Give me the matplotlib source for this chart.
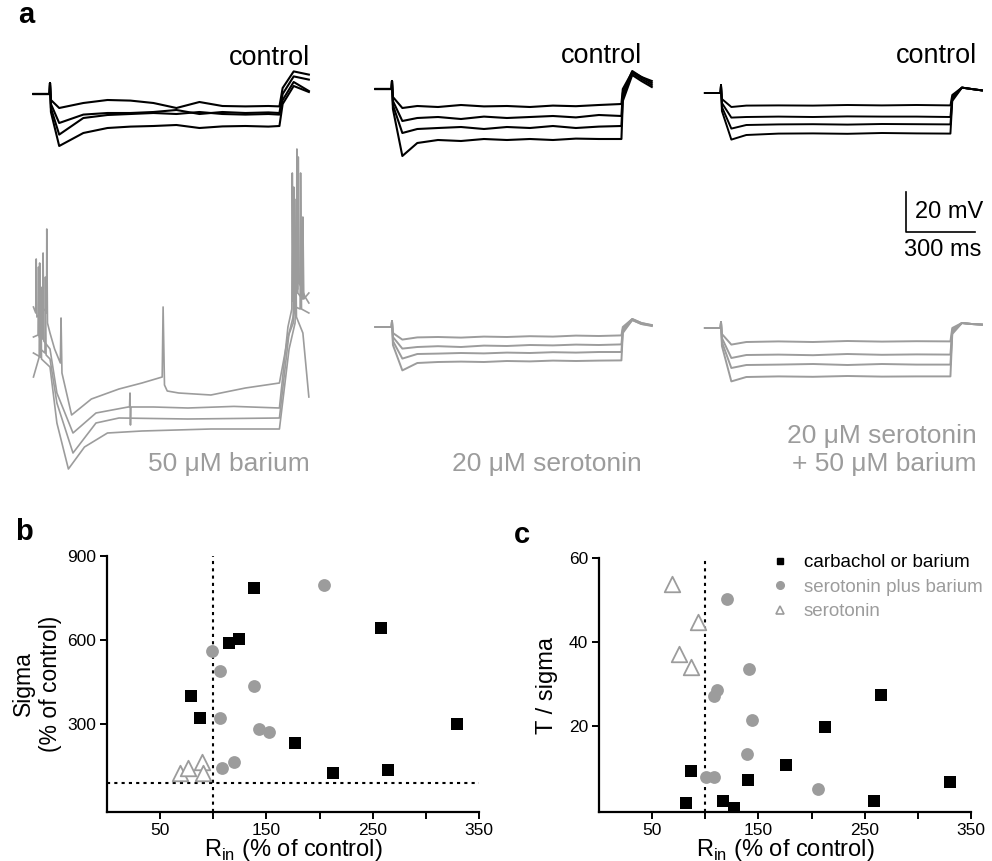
import matplotlib
matplotlib.use("Agg")
import matplotlib.pyplot as plt
from matplotlib.lines import Line2D

plt.rcParams['font.family'] = ['Liberation Sans', 'DejaVu Sans']
plt.rcParams['mathtext.fontset'] = 'custom'
plt.rcParams['mathtext.rm'] = 'Liberation Sans'

GREY = '#9c9c9c'

# ---- panel a: traces, time in ms from step onset, voltage in mV from pre-step level
LEFT_T = [-72, -2, 0, 4, 40, 145, 250, 350, 450, 550, 650, 750, 850, 950, 998, 1012, 1060, 1126]
LEFT_CTRL = [
    [0, 0, 5.5, -3, -7, -4.5, -3, -3.3, -4.5, -7, -4, -6, -6.2, -6, -6.2, 3, 11.3, 9.7],
    [0, 0, 5.5, -5, -14.5, -10.3, -9.5, -9.5, -9, -8, -10, -9, -9.5, -9.2, -9.5, 0, 8.8, 7.2],
    [0, 0, 5.5, -7, -20.3, -12, -10.5, -10, -9.5, -10, -9, -10, -10.3, -10, -10.3, -3, 6, 1.5],
    [0, 0, 5.5, -9, -26, -19.5, -17, -16.3, -16, -15.5, -17, -16.2, -16, -16.3, -16, -5, 4, 1],
]
# barium traces (spiking), each its own time base
BA_A_T = [-72, -62, -60, -57, -20, -15, -14, -11, 0, 20, 45, 48, 52, 94, 180, 300, 400, 488,
          492, 498, 510, 560, 700, 850, 998, 1035, 1058, 1060, 1064, 1078, 1080, 1084, 1110, 1126]
BA_A_V = [13, 10, 37, 8, 12, 10, 52, 5, 0, -8, -15, 7.5, -20, -41, -33, -28, -25, -22,
          13, -26, -29, -30, -31, -27.5, -25, -2, 5, 73, 20, 22, 88, 25, 18, 15]
BA_B_T = [-72, -52, -50, -47, -32, -30, -27, 0, 30, 100, 200, 340, 346, 348, 350, 352, 450, 600,
          800, 998, 1035, 1052, 1054, 1058, 1072, 1074, 1078, 1098, 1100, 1104, 1126]
BA_B_V = [-2, -1, 33, -2, -3, 40, -4, -8, -30, -50, -40, -37, -37, -30, -46, -37, -37, -37.5,
          -36.7, -37.5, 3, 12, 80, 16, 20, 92, 20, 17, 58, 17, 20]
BA_C_T = [-72, -47, -45, -42, -22, -20, -17, 0, 30, 100, 200, 300, 600, 998, 1040, 1062, 1064,
          1068, 1088, 1090, 1094, 1126]
BA_C_V = [-22, -12, 35, -8, -10, 28, -11, -13, -35, -60, -45, -42.5, -43, -42.5, 0, 10, 67,
          13, 12, 80, 12, 10]
BA_D_T = [-72, -42, -40, -37, 0, 30, 80, 150, 250, 400, 700, 998, 1040, 1066, 1068, 1072, 1100, 1126]
BA_D_V = [-10, -12, 23, -13, -17, -45, -68, -57, -50, -49, -48, -48, -8, 5, 50, 8, 0, -32]

MID_T = [-72, -2, 0, 4, 45, 110, 200, 300, 400, 500, 600, 700, 800, 900, 998, 1004, 1045, 1085, 1130]
MID_CTRL = [
    [0, 0, 4, -4, -9.5, -8.5, -9, -8, -8.7, -8.5, -9, -8.3, -8.6, -8, -7.5, 0, 8.5, 6, 4],
    [0, 0, 4, -6, -16, -14.5, -14, -15, -13.8, -14.5, -14, -13.5, -14.2, -13, -13.5, -2, 9, 6, 3],
    [0, 0, 4, -8, -22, -20, -19.5, -19, -20, -19, -19.5, -18.5, -19.5, -18.8, -18.5, -4, 8, 5, 2],
    [0, 0, 4, -10, -33.5, -27, -25.5, -26, -25, -25.5, -25, -25.5, -24.8, -25, -25, -6, 7, 4, 1],
]
MID_SERO = [
    [0, 0, 3, -3, -6.3, -5.2, -5, -5.3, -4.8, -5, -4.6, -4.8, -4.3, -4.5, -4.2, 0, 4, 2, 1],
    [0, 0, 3, -5, -10.8, -10, -9.6, -10, -9.3, -9.5, -9, -9.2, -8.8, -9, -8.7, -1, 4, 2, 0.8],
    [0, 0, 3, -7, -15.8, -13.5, -13.3, -13, -13.2, -12.8, -13, -12.6, -12.8, -12.5, -12.5, -2, 3.5, 1.5, 0.8],
    [0, 0, 3, -9, -21.7, -18, -17.5, -17.3, -17.5, -17, -17.2, -16.8, -17, -16.8, -16.7, -3, 3.5, 1.5, 0.5],
]

RIGHT_T = [-70, -2, 0, 4, 45, 110, 250, 400, 550, 700, 850, 998, 1006, 1048, 1090, 1135]
RIGHT_CTRL = [
    [0, 0, 4, -3, -7, -6.3, -6.2, -6.3, -6, -6.2, -6, -6.2, -1, 2.7, 2, 1.3],
    [0, 0, 4, -5, -12.3, -12, -11.8, -12, -11.7, -11.8, -11.8, -12, -2, 2.7, 2, 1.3],
    [0, 0, 4, -7, -17.8, -16, -15.7, -15.6, -15.8, -15.5, -15.6, -15.7, -3, 2.7, 2, 1.3],
    [0, 0, 4, -9, -23.3, -21, -20.3, -20.2, -20.4, -20, -20.2, -20.3, -4, 2.7, 2, 1.3],
]
RIGHT_SERO_BA = [
    [0, 0, 3, -3, -8.3, -7, -6.7, -7, -6.5, -6.8, -6.6, -6.7, 0, 2.5, 2, 1.7],
    [0, 0, 3, -5, -15, -13.5, -13.3, -13.6, -13, -13.4, -13.2, -13.3, -1, 2.5, 2, 1.7],
    [0, 0, 3, -7, -20, -18.5, -18.3, -18, -18.5, -18, -18.3, -18.3, -2, 2.5, 2, 1.7],
    [0, 0, 3, -9, -26.7, -24.5, -24.2, -24.4, -24, -24.3, -24.2, -24.2, -3, 2.5, 2, 1.7],
]
SCALE_MV = 20
SCALE_MS = 300

# ---- panel b / c: Rin (% of control) vs sigma / T-over-sigma
B_SQ_X = [138, 258, 115, 124, 79, 87.5, 329, 177, 213, 264]
B_SQ_Y = [786, 643, 589, 604, 400, 321, 300, 232, 125, 136]
B_CI_X = [204, 99, 106, 138, 106, 143, 152, 119.5, 108]
B_CI_Y = [796, 561, 489, 436, 321, 282, 271, 164, 143]
B_TR_X = [69, 76, 89, 90]
B_TR_Y = [125, 143, 164, 125]
B_HLINE = 90

C_SQ_X = [86.6, 81.5, 117, 127, 140, 176, 213, 265, 259, 330]
C_SQ_Y = [9.2, 1.6, 2.1, 0.3, 7.1, 10.7, 19.7, 27.4, 2.0, 6.5]
C_CI_X = [120.8, 141.5, 110.7, 108, 144, 139, 100.7, 108, 206]
C_CI_Y = [50.2, 33.6, 28.4, 27.0, 21.4, 13.3, 7.7, 7.7, 4.9]
C_TR_X = [69, 93.5, 75, 86.6]
C_TR_Y = [53.8, 44.8, 37.0, 34.1]

GROUPS = ['carbachol or barium', 'serotonin plus barium', 'serotonin']

W, H = 992, 861
fig = plt.figure(figsize=(W / 100, H / 100), dpi=100)
MS_PX = 4.35   # ms per pixel
MV_PX = 0.5    # mV per pixel


def trace_axes(x0, w, onset):
    ax = fig.add_axes([x0 / W, (H - 480) / H, w / W, 440 / H])
    ax.set_xlim((x0 - onset) * MS_PX, (x0 + w - onset) * MS_PX)
    ax.set_ylim(0, 440 * MV_PX)
    ax.axis('off')
    return ax


def draw(ax, t, v, base_px, color, lw):
    off = (480 - base_px) * MV_PX
    ax.plot(t, [y + off for y in v], color=color, lw=lw, clip_on=False, solid_joinstyle='round')


axl = trace_axes(15, 310, 50)
axm = trace_axes(360, 300, 392)
axr = trace_axes(690, 300, 721)

for v in LEFT_CTRL:
    draw(axl, LEFT_T, v, 94, 'black', 1.5)
for t, v in [(BA_A_T, BA_A_V), (BA_B_T, BA_B_V), (BA_C_T, BA_C_V), (BA_D_T, BA_D_V)]:
    draw(axl, t, v, 333, GREY, 1.2)
for v in MID_CTRL:
    draw(axm, MID_T, v, 89, 'black', 1.5)
for v in MID_SERO:
    draw(axm, MID_T, v, 327, GREY, 1.4)
for v in RIGHT_CTRL:
    draw(axr, RIGHT_T, v, 93, 'black', 1.4)
for v in RIGHT_SERO_BA:
    draw(axr, RIGHT_T, v, 328, GREY, 1.4)

# scale bar
sb_t, sb_v = 803, (480 - 232) * MV_PX
axr.plot([sb_t, sb_t, sb_t + SCALE_MS], [sb_v + SCALE_MV, sb_v, sb_v], color='black', lw=1.2,
         clip_on=False)


def ftext(x, y, s, **kw):
    fig.text(x / W, 1 - y / H, s, **kw)


ftext(915, 218, f'{SCALE_MV} mV', fontsize=17, va='baseline')
ftext(981, 256, f'{SCALE_MS} ms', fontsize=17, va='baseline', ha='right')

for xr, yb in [(310, 65), (642, 63), (977, 63)]:
    ftext(xr, yb, 'control', fontsize=19.5, ha='right', va='baseline')
ftext(310, 471, '50 \u03bcM barium', fontsize=19, ha='right', va='baseline', color=GREY)
ftext(642, 471, '20 \u03bcM serotonin', fontsize=19, ha='right', va='baseline', color=GREY)
ftext(977, 443, '20 \u03bcM serotonin', fontsize=19, ha='right', va='baseline', color=GREY)
ftext(977, 471, '+ 50 \u03bcM barium', fontsize=19, ha='right', va='baseline', color=GREY)

ftext(18, 15, 'a', fontsize=21, fontweight='bold', va='center')
ftext(15, 532, 'b', fontsize=21, fontweight='bold', va='center')
ftext(514, 535, 'c', fontsize=21, fontweight='bold', va='center')

# ---- scatter panels
axb = fig.add_axes([107 / W, (H - 812) / H, 372 / W, 256 / H])
axc = fig.add_axes([599 / W, (H - 812) / H, 372 / W, 254 / H])


def style(ax):
    for s in ['top', 'right']:
        ax.spines[s].set_visible(False)
    for s in ['left', 'bottom']:
        ax.spines[s].set_linewidth(1.6)
    ax.set_xlim(0, 350)
    ax.set_xticks([50, 150, 250, 350])
    ax.set_xticks([100, 200, 300], minor=True)
    ax.tick_params(which='both', direction='out', length=5, width=1.4, labelsize=12.5, pad=3)
    ax.set_xlabel('R$_{\\mathrm{in}}$ (% of control)', fontsize=17, labelpad=-1)


def points(ax, sx, sy, cx, cy, tx, ty):
    ax.scatter(sx, sy, marker='s', s=72, c='black', zorder=3, linewidths=0)
    ax.scatter(cx, cy, marker='o', s=85, c=GREY, zorder=3, linewidths=0)
    ax.scatter(tx, ty, marker='^', s=125, facecolors='white', edgecolors=GREY, linewidths=1.3, zorder=3)


style(axb)
axb.set_ylim(-14, 900)
axb.set_yticks([300, 600, 900])
axb.plot([100, 100], [-14, 900], color='black', ls=(0, (1.5, 2)), lw=1.5)
axb.plot([0, 350], [B_HLINE, B_HLINE], color='black', ls=(0, (1.5, 2)), lw=1.5)
points(axb, B_SQ_X, B_SQ_Y, B_CI_X, B_CI_Y, B_TR_X, B_TR_Y)
axb.set_ylabel('Sigma\n(% of control)', fontsize=16.5, linespacing=1.2)
axb.yaxis.set_label_coords(-0.122, 0.5)

style(axc)
axc.set_ylim(-0.6, 60)
axc.set_yticks([20, 40, 60])
axc.plot([100, 100], [-0.6, 60], color='black', ls=(0, (1.5, 2)), lw=1.5)
points(axc, C_SQ_X, C_SQ_Y, C_CI_X, C_CI_Y, C_TR_X, C_TR_Y)
axc.set_ylabel('T / sigma', fontsize=17)
axc.yaxis.set_label_coords(-0.11, 0.5)

handles = [
    Line2D([], [], ls='none', marker='s', ms=5, color='black'),
    Line2D([], [], ls='none', marker='o', ms=5.5, color=GREY),
    Line2D([], [], ls='none', marker='^', ms=6, mfc='white', mec=GREY, mew=1.2),
]
leg = axc.legend(handles, GROUPS, loc='upper left', bbox_to_anchor=(0.415, 1.045), frameon=False,
                 fontsize=13.5, handletextpad=0.3, labelspacing=0.4, borderaxespad=0)
for txt, col in zip(leg.get_texts(), ['black', GREY, GREY]):
    txt.set_color(col)

fig.savefig('out.png', dpi=100)
